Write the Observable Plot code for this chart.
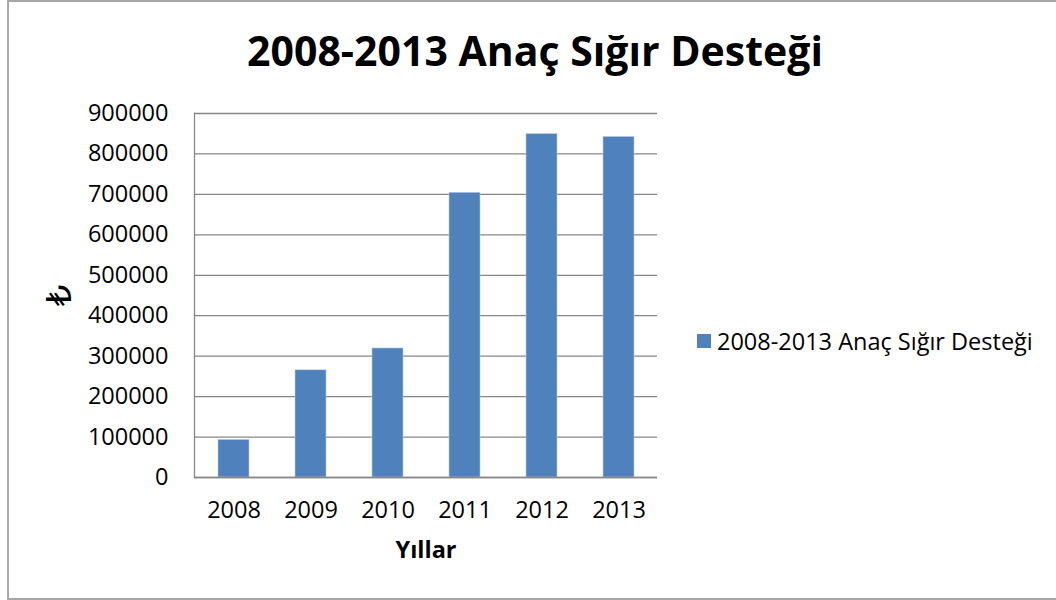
<!DOCTYPE html>
<html>
<head>
<meta charset="utf-8">
<script src="https://cdn.jsdelivr.net/npm/d3@7"></script>
<script src="https://cdn.jsdelivr.net/npm/@observablehq/plot@0.6"></script>
<style>
  html, body { margin: 0; padding: 0; background: #fff; }
  #wrap { position: relative; width: 1056px; height: 600px; overflow: hidden; font-family: "Open Sans", "DejaVu Sans", sans-serif; }
  #border { position: absolute; left: 7px; top: 0; width: 1100px; height: 596px; border: 2px solid #a6a6a6; }
  #title { position: absolute; left: 0; width: 1070px; top: 22px; text-align: center; font-weight: bold; font-size: 41px; color: #000; }
  #legend { position: absolute; left: 697px; top: 325px; font-size: 23.5px; color: #000; display: flex; align-items: center; white-space: nowrap; }
  #legend .sw { width: 14px; height: 14px; background: #4f81bd; margin-right: 6px; }
  #chart { position: absolute; left: 0; top: 0; }
  #chart [aria-label="x-axis label"] text { font-weight: bold; }
  #chart [aria-label="y-axis label"] text { font-size: 34px; }
</style>
</head>
<body>
<div id="wrap">
  <div id="border"></div>
  <div id="chart"></div>
  <div id="title"></div>
  <div id="legend"><div class="sw"></div><span id="legtext"></span></div>
</div>
<script>
const years = ["2008", "2009", "2010", "2011", "2012", "2013"];
const values = [93000, 265000, 319000, 704000, 849000, 842000];
const yTicks = [0, 100000, 200000, 300000, 400000, 500000, 600000, 700000, 800000, 900000];
const seriesName = "2008-2013 Anaç Sığır Desteği";
const titleText = "2008-2013 Anaç Sığır Desteği";
const xLabel = "Yıllar";
const yLabel = "₺";

const data = years.map((y, i) => ({year: y, value: values[i]}));

document.getElementById("title").textContent = titleText;
document.getElementById("legtext").textContent = seriesName;

const chart = Plot.plot({
  width: 1056,
  height: 600,
  marginLeft: 194,
  marginRight: 399,
  marginTop: 113,
  marginBottom: 123,
  style: {fontFamily: "Open Sans, DejaVu Sans, sans-serif", fontSize: "23.5px", color: "#000", background: "transparent"},
  x: {domain: years, padding: 0.6, paddingOuter: 0.3, align: 0.5},
  y: {domain: [0, 900000]},
  marks: [
    Plot.gridY(yTicks, {stroke: "#878787", strokeOpacity: 1, strokeWidth: 1.3}),
    Plot.barY(data, {x: "year", y: "value", fill: "#4f81bd", stroke: "#b9cde5", strokeWidth: 0.6}),
    Plot.ruleY([0], {stroke: "#878787", strokeWidth: 1.3}),
    Plot.frame({anchor: "left", stroke: "#878787", strokeWidth: 1.3}),
    Plot.axisY(yTicks, {tickSize: 0, tickPadding: 26, tickFormat: d => String(d), label: yLabel, labelAnchor: "center", labelOffset: 148, labelArrow: "none"}),
    Plot.axisX({tickSize: 0, tickPadding: 24, label: xLabel, labelAnchor: "center", labelOffset: 80, labelArrow: "none"})
  ]
});
document.getElementById("chart").appendChild(chart);
</script>
</body>
</html>
